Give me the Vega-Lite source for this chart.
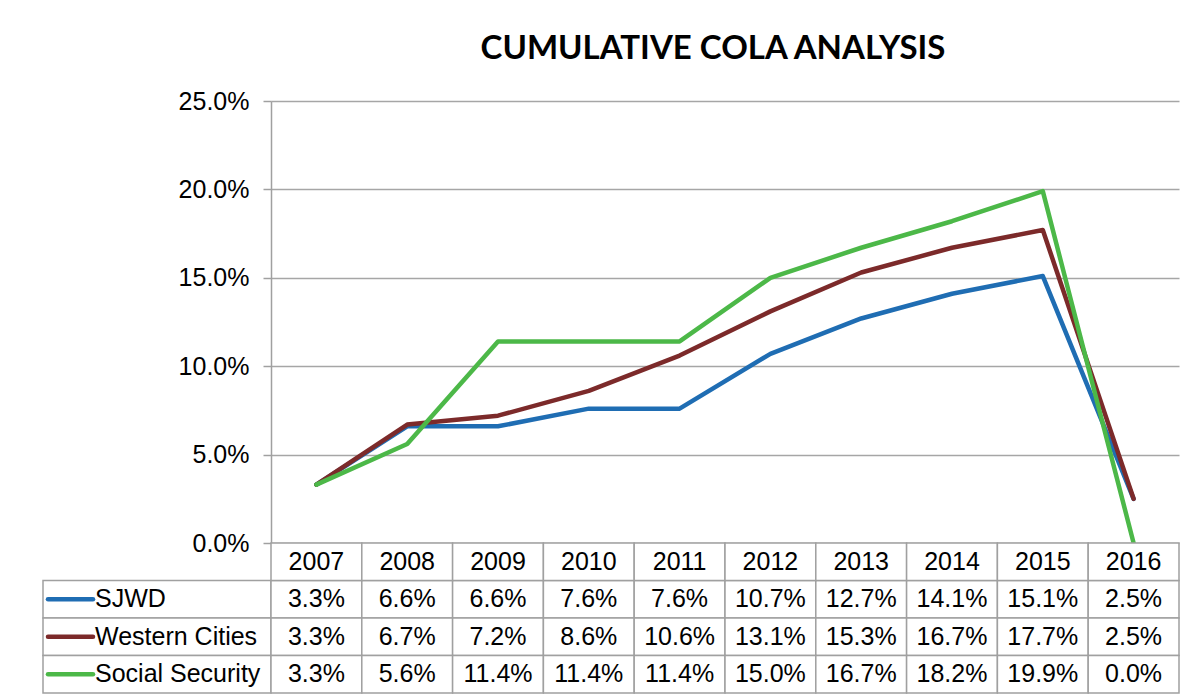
{
  "$schema": "https://vega.github.io/schema/vega-lite/v6.json",
  "background": "white",
  "padding": {"left": 42, "top": 33, "right": 0, "bottom": 0},
  "config": {
    "view": {"stroke": null},
    "font": "Liberation Sans",
    "text": {"font": "Liberation Sans", "fontSize": 25, "color": "black"}
  },
  "bounds": "flush",
  "spacing": 0,
  "columns": 2,
  "datasets": {
    "cola": [
      {"year": "2007", "series": "SJWD", "value": 0.033},
      {"year": "2008", "series": "SJWD", "value": 0.066},
      {"year": "2009", "series": "SJWD", "value": 0.066},
      {"year": "2010", "series": "SJWD", "value": 0.076},
      {"year": "2011", "series": "SJWD", "value": 0.076},
      {"year": "2012", "series": "SJWD", "value": 0.107},
      {"year": "2013", "series": "SJWD", "value": 0.127},
      {"year": "2014", "series": "SJWD", "value": 0.141},
      {"year": "2015", "series": "SJWD", "value": 0.151},
      {"year": "2016", "series": "SJWD", "value": 0.025},
      {"year": "2007", "series": "Western Cities", "value": 0.033},
      {"year": "2008", "series": "Western Cities", "value": 0.067},
      {"year": "2009", "series": "Western Cities", "value": 0.072},
      {"year": "2010", "series": "Western Cities", "value": 0.086},
      {"year": "2011", "series": "Western Cities", "value": 0.106},
      {"year": "2012", "series": "Western Cities", "value": 0.131},
      {"year": "2013", "series": "Western Cities", "value": 0.153},
      {"year": "2014", "series": "Western Cities", "value": 0.167},
      {"year": "2015", "series": "Western Cities", "value": 0.177},
      {"year": "2016", "series": "Western Cities", "value": 0.025},
      {"year": "2007", "series": "Social Security", "value": 0.033},
      {"year": "2008", "series": "Social Security", "value": 0.056},
      {"year": "2009", "series": "Social Security", "value": 0.114},
      {"year": "2010", "series": "Social Security", "value": 0.114},
      {"year": "2011", "series": "Social Security", "value": 0.114},
      {"year": "2012", "series": "Social Security", "value": 0.150},
      {"year": "2013", "series": "Social Security", "value": 0.167},
      {"year": "2014", "series": "Social Security", "value": 0.182},
      {"year": "2015", "series": "Social Security", "value": 0.199},
      {"year": "2016", "series": "Social Security", "value": 0.0}
    ]
  },
  "concat": [
    {
      "width": 228,
      "height": 442,
      "data": {"values": []},
      "mark": "point"
    },
    {
      "width": 908,
      "height": 442,
      "title": {
        "text": "CUMULATIVE COLA ANALYSIS",
        "font": "Lato",
        "fontSize": 33,
        "fontWeight": "bold",
        "color": "black",
        "anchor": "middle",
        "offset": 23,
        "dx": -12
      },
      "data": {"name": "cola"},
      "mark": {"type": "line", "strokeWidth": 4.5, "strokeJoin": "round", "strokeCap": "round"},
      "encoding": {
        "x": {
          "field": "year",
          "type": "ordinal",
          "scale": {"type": "point", "padding": 0.5},
          "axis": null
        },
        "y": {
          "field": "value",
          "type": "quantitative",
          "scale": {"domain": [0, 0.25]},
          "axis": {
            "title": null,
            "format": ".1%",
            "values": [0, 0.05, 0.1, 0.15, 0.2, 0.25],
            "labelFont": "Liberation Sans",
            "labelFontSize": 25,
            "labelColor": "black",
            "labelPadding": 14,
            "tickSize": 8,
            "tickColor": "#a0a0a0",
            "tickWidth": 1.5,
            "domainColor": "#a0a0a0",
            "domainWidth": 1.5,
            "gridColor": "#a6a6a6",
            "gridWidth": 1.5
          }
        },
        "color": {
          "field": "series",
          "type": "nominal",
          "scale": {
            "domain": ["SJWD", "Western Cities", "Social Security"],
            "range": ["#1f6db3", "#7c2a2a", "#4cb848"]
          },
          "legend": null
        }
      }
    },
    {
      "width": 228,
      "height": 150,
      "data": {"name": "cola"},
      "transform": [{"filter": "datum.year === '2007'"}],
      "encoding": {
        "y": {
          "field": "series",
          "type": "nominal",
          "scale": {
            "type": "band",
            "domain": ["Year", "SJWD", "Western Cities", "Social Security"],
            "paddingInner": 0,
            "paddingOuter": 0
          },
          "axis": null
        }
      },
      "layer": [
        {"mark": {"type": "rect", "fill": "white", "stroke": "#a0a0a0", "strokeWidth": 1.5}},
        {
          "mark": {"type": "rule", "x": 5, "x2": 50, "strokeWidth": 4.5, "strokeCap": "round"},
          "encoding": {
            "color": {
              "field": "series",
              "type": "nominal",
              "scale": {
                "domain": ["SJWD", "Western Cities", "Social Security"],
                "range": ["#1f6db3", "#7c2a2a", "#4cb848"]
              },
              "legend": null
            }
          }
        },
        {
          "mark": {"type": "text", "align": "left", "x": 52},
          "encoding": {"text": {"field": "series"}}
        }
      ]
    },
    {
      "width": 908,
      "height": 150,
      "data": {"name": "cola"},
      "encoding": {
        "x": {
          "field": "year",
          "type": "ordinal",
          "scale": {"type": "band", "paddingInner": 0, "paddingOuter": 0},
          "axis": null
        }
      },
      "layer": [
        {
          "mark": {"type": "rect", "fill": "white", "stroke": "#a0a0a0", "strokeWidth": 1.5},
          "encoding": {
            "y": {
              "field": "series",
              "type": "nominal",
              "scale": {
                "type": "band",
                "domain": ["Year", "SJWD", "Western Cities", "Social Security"],
                "paddingInner": 0,
                "paddingOuter": 0
              },
              "axis": null
            }
          }
        },
        {
          "transform": [{"filter": "datum.series === 'SJWD'"}],
          "mark": {"type": "rect", "fill": "white", "stroke": "#a0a0a0", "strokeWidth": 1.5},
          "encoding": {"y": {"datum": "Year"}}
        },
        {
          "mark": {"type": "text"},
          "encoding": {
            "y": {"field": "series", "type": "nominal"},
            "text": {"field": "value", "type": "quantitative", "format": ".1%"}
          }
        },
        {
          "transform": [{"filter": "datum.series === 'SJWD'"}],
          "mark": {"type": "text"},
          "encoding": {
            "y": {"datum": "Year"},
            "text": {"field": "year"}
          }
        }
      ]
    }
  ]
}
